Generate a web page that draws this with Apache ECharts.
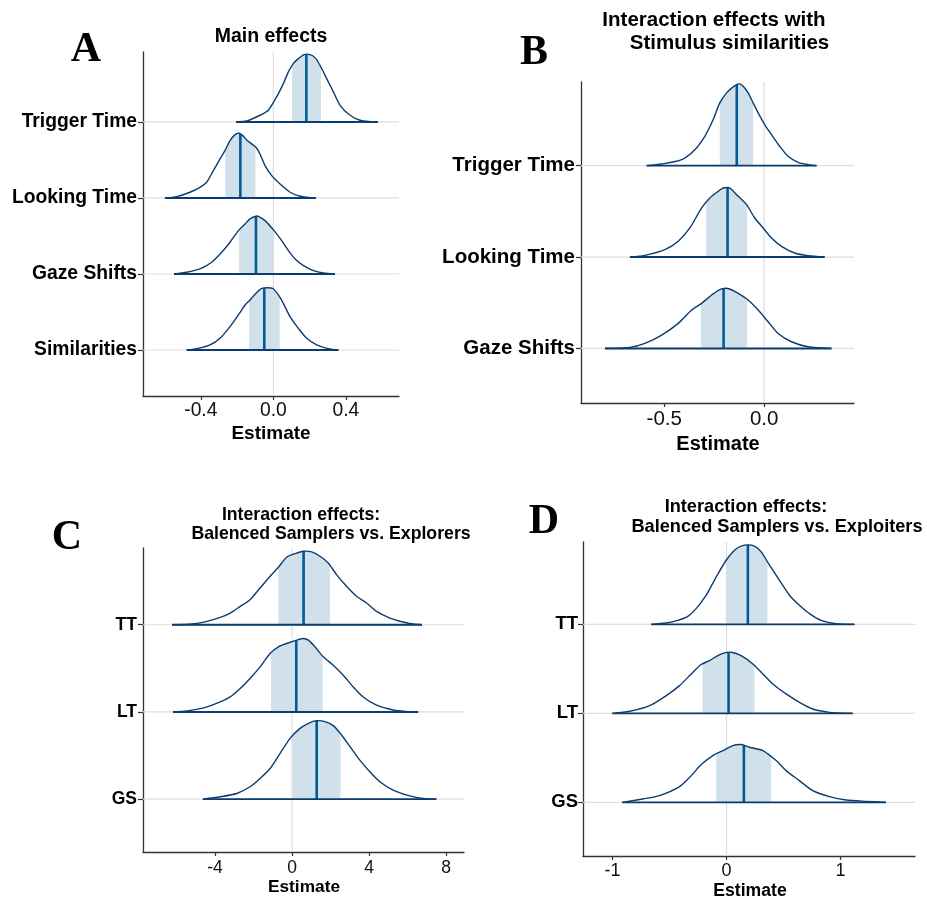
<!DOCTYPE html>
<html><head><meta charset="utf-8">
<script src="https://cdn.jsdelivr.net/npm/echarts@6/dist/echarts.min.js"></script>
<style>html,body{margin:0;padding:0;background:#fff}#c{width:927px;height:902px}</style>
</head><body><div id="c"></div>
<script>
// ---------- Panel A: Main effects (index 0 = bottom row) ----------
const A_labels = ['Similarities', 'Gaze Shifts', 'Looking Time', 'Trigger Time'];
const A_ticks = [-0.4, 0, 0.4];
const A_sim_x = [-0.478,-0.414,-0.349,-0.294,-0.239,-0.193,-0.156,-0.129,-0.096,-0.064,-0.004,0.028,0.055,0.092,0.138,0.184,0.239,0.294,0.359];
const A_sim_h = [0,0.022,0.066,0.154,0.307,0.461,0.592,0.658,0.746,0.811,0.811,0.724,0.614,0.439,0.285,0.154,0.066,0.022,0];
const A_gs_x = [-0.548,-0.478,-0.405,-0.340,-0.285,-0.239,-0.193,-0.156,-0.129,-0.096,-0.083,-0.046,0.004,0.046,0.083,0.120,0.166,0.221,0.276,0.340];
const A_gs_h = [0,0.022,0.066,0.154,0.285,0.417,0.570,0.658,0.724,0.759,0.759,0.702,0.570,0.439,0.307,0.197,0.110,0.044,0.013,0];
const A_lt_x = [-0.598,-0.533,-0.460,-0.405,-0.368,-0.331,-0.294,-0.267,-0.239,-0.211,-0.188,-0.169,-0.147,-0.120,-0.096,-0.074,-0.046,-0.009,0.037,0.092,0.147,0.202,0.234];
const A_lt_h = [0,0.018,0.075,0.140,0.206,0.360,0.513,0.623,0.754,0.833,0.851,0.820,0.763,0.711,0.667,0.579,0.425,0.294,0.184,0.075,0.022,0.004,0];
const A_tt_x = [-0.206,-0.147,-0.074,-0.028,0.018,0.055,0.083,0.110,0.138,0.169,0.202,0.230,0.257,0.294,0.331,0.368,0.423,0.478,0.533,0.576];
const A_tt_h = [0,0.013,0.088,0.154,0.329,0.504,0.658,0.768,0.833,0.886,0.886,0.846,0.746,0.570,0.395,0.219,0.088,0.022,0.004,0];
const A_lo  = [-0.134, -0.189, -0.265, 0.103];
const A_hi  = [0.035, 0.0, -0.099, 0.263];
const A_med = [-0.050, -0.096, -0.182, 0.182];

// ---------- Panel B: Interaction with stimulus similarities ----------
const B_labels = ['Gaze Shifts', 'Looking Time', 'Trigger Time'];
const B_ticks = [-0.5, 0];
const B_gs_x = [-0.797,-0.672,-0.597,-0.513,-0.430,-0.363,-0.313,-0.263,-0.227,-0.200,-0.172,-0.130,-0.080,-0.030,0.020,0.070,0.137,0.220,0.337];
const B_gs_h = [0,0.011,0.055,0.146,0.274,0.420,0.493,0.584,0.639,0.657,0.650,0.602,0.529,0.420,0.292,0.164,0.073,0.018,0];
const B_lt_x = [-0.672,-0.597,-0.497,-0.430,-0.372,-0.313,-0.272,-0.230,-0.205,-0.172,-0.138,-0.088,-0.047,-0.005,0.037,0.087,0.153,0.220,0.303];
const B_lt_h = [0,0.018,0.080,0.172,0.318,0.537,0.646,0.719,0.755,0.755,0.682,0.573,0.427,0.318,0.208,0.117,0.044,0.015,0];
const B_tt_x = [-0.588,-0.513,-0.413,-0.347,-0.297,-0.255,-0.222,-0.188,-0.155,-0.127,-0.105,-0.080,-0.055,-0.030,0.003,0.037,0.078,0.120,0.170,0.220,0.262];
const B_tt_h = [0,0.018,0.066,0.175,0.321,0.504,0.686,0.796,0.861,0.894,0.869,0.796,0.686,0.577,0.449,0.339,0.212,0.102,0.036,0.011,0];
const B_lo  = [-0.317, -0.290, -0.222];
const B_hi  = [-0.085, -0.085, -0.055];
const B_med = [-0.203, -0.183, -0.137];

// ---------- Panel C: Balenced Samplers vs. Explorers ----------
const C_labels = ['GS', 'LT', 'TT'];
const C_ticks = [-4, 0, 4, 8];
const C_gs_x = [-4.63,-3.73,-2.87,-2.18,-1.66,-1.14,-0.62,-0.10,0.41,0.85,1.28,1.71,2.14,2.57,3.01,3.52,4.04,4.56,5.25,6.11,6.80,7.49];
const C_gs_h = [0,0.027,0.065,0.142,0.238,0.352,0.525,0.697,0.812,0.870,0.900,0.889,0.843,0.736,0.602,0.448,0.314,0.199,0.103,0.038,0.008,0];
const C_lt_x = [-6.18,-5.46,-4.59,-3.73,-3.21,-2.69,-2.18,-1.66,-1.14,-0.71,-0.28,0.24,0.59,0.85,1.19,1.62,2.14,2.66,3.18,3.70,4.39,5.25,6.03,6.55];
const C_lt_h = [0,0.011,0.046,0.115,0.172,0.268,0.383,0.517,0.670,0.747,0.785,0.824,0.843,0.824,0.747,0.632,0.536,0.421,0.287,0.172,0.077,0.023,0.004,0];
const C_tt_x = [-6.23,-5.20,-4.42,-3.73,-3.21,-2.69,-2.18,-1.66,-1.14,-0.71,-0.28,0.16,0.59,1.02,1.45,1.88,2.31,2.83,3.35,3.87,4.39,5.08,5.77,6.29,6.75];
const C_tt_h = [0,0.008,0.038,0.084,0.134,0.211,0.287,0.421,0.556,0.659,0.774,0.816,0.843,0.835,0.785,0.709,0.575,0.441,0.326,0.249,0.153,0.077,0.031,0.008,0];
const C_lo  = [0.02, -1.09, -0.71];
const C_hi  = [2.52, 1.59, 1.97];
const C_med = [1.28, 0.22, 0.60];

// ---------- Panel D: Balenced Samplers vs. Exploiters ----------
const D_labels = ['GS', 'LT', 'TT'];
const D_ticks = [-1, 0, 1];
const D_gs_x = [-0.914,-0.733,-0.587,-0.412,-0.309,-0.222,-0.120,-0.018,0.055,0.128,0.201,0.318,0.435,0.522,0.639,0.756,0.902,1.048,1.223,1.398];
const D_gs_h = [0,0.038,0.075,0.176,0.300,0.424,0.525,0.589,0.638,0.649,0.619,0.582,0.469,0.356,0.244,0.131,0.064,0.026,0.011,0];
const D_lt_x = [-1.001,-0.849,-0.674,-0.528,-0.412,-0.309,-0.222,-0.149,-0.076,-0.018,0.041,0.128,0.231,0.318,0.406,0.522,0.639,0.756,0.902,1.019,1.106];
const D_lt_h = [0,0.023,0.086,0.199,0.311,0.443,0.548,0.593,0.649,0.679,0.687,0.649,0.555,0.443,0.330,0.218,0.124,0.049,0.011,0.002,0];
const D_tt_x = [-0.660,-0.528,-0.426,-0.339,-0.266,-0.178,-0.090,-0.003,0.070,0.128,0.187,0.245,0.304,0.377,0.464,0.552,0.639,0.727,0.829,0.960,1.121];
const D_tt_h = [0,0.015,0.045,0.090,0.176,0.327,0.533,0.720,0.833,0.878,0.893,0.878,0.814,0.664,0.495,0.327,0.214,0.120,0.045,0.008,0];
const D_lo  = [-0.090, -0.210, 0.003];
const D_hi  = [0.391, 0.245, 0.359];
const D_med = [0.152, 0.018, 0.187];

// ---------- layout / styling ----------
const FONT = '"Liberation Sans", Arial, sans-serif';
const SERIF = '"Liberation Serif", "Times New Roman", serif';
const OUTLINE = '#0b3c6e', MEDIAN = '#005b96', SHADE = '#d1e1ec', GRIDC = '#dedede', AXISC = '#333333';

const panels = [
  { grid:{left:143, top:52, width:256, height:344}, xMin:-0.719, xMax:0.693, yMin:0.395, yMax:4.92,
    labels:A_labels, ticks:A_ticks, dec:1,
    ridges:[[A_sim_x,A_sim_h],[A_gs_x,A_gs_h],[A_lt_x,A_lt_h],[A_tt_x,A_tt_h]],
    lo:A_lo, hi:A_hi, med:A_med, yFont:19.3, xFont:19.3, xMargin:5, yMargin:6 },
  { grid:{left:581, top:82, width:273, height:321}, xMin:-0.917, xMax:0.45, yMin:0.403, yMax:3.915,
    labels:B_labels, ticks:B_ticks, dec:1,
    ridges:[[B_gs_x,B_gs_h],[B_lt_x,B_lt_h],[B_tt_x,B_tt_h]],
    lo:B_lo, hi:B_hi, med:B_med, yFont:20.5, xFont:20.5, xMargin:6, yMargin:6 },
  { grid:{left:143, top:548, width:321, height:304}, xMin:-7.74, xMax:8.93, yMin:0.394, yMax:3.88,
    labels:C_labels, ticks:C_ticks, dec:0,
    ridges:[[C_gs_x,C_gs_h],[C_lt_x,C_lt_h],[C_tt_x,C_tt_h]],
    lo:C_lo, hi:C_hi, med:C_med, yFont:17.5, xFont:17.5, xMargin:7, yMargin:6 },
  { grid:{left:583, top:542, width:332, height:314}, xMin:-1.258, xMax:1.652, yMin:0.397, yMax:3.925,
    labels:D_labels, ticks:D_ticks, dec:0,
    ridges:[[D_gs_x,D_gs_h],[D_lt_x,D_lt_h],[D_tt_x,D_tt_h]],
    lo:D_lo, hi:D_hi, med:D_med, yFont:18.5, xFont:18, xMargin:6, yMargin:5 }
];

function hAt(xs, hs, x) {
  if (x <= xs[0]) return hs[0];
  for (let j = 1; j < xs.length; j++) {
    if (x <= xs[j]) {
      const t = (x - xs[j-1]) / (xs[j] - xs[j-1]);
      return hs[j-1] + t * (hs[j] - hs[j-1]);
    }
  }
  return hs[hs.length - 1];
}

const grids = [], xAxes = [], yAxes = [], series = [];
panels.forEach((P, i) => {
  grids.push(Object.assign({containLabel:false}, P.grid));
  xAxes.push({
    type:'value', gridIndex:i, min:P.xMin, max:P.xMax,
    axisLine:{show:true, onZero:false, lineStyle:{color:AXISC, width:1.3}},
    axisTick:{show:true, length:4, customValues:P.ticks, lineStyle:{color:AXISC, width:1.2}},
    axisLabel:{show:true, customValues:P.ticks, fontFamily:FONT, fontSize:P.xFont, color:'#111', margin:P.xMargin,
      formatter:v => Number(v).toFixed(P.dec)},
    splitLine:{show:false}
  });
  const cats = P.labels.map((_, k) => k + 1);
  yAxes.push({
    type:'value', gridIndex:i, min:P.yMin, max:P.yMax,
    axisLine:{show:true, onZero:false, lineStyle:{color:AXISC, width:1.3}},
    axisTick:{show:true, length:5, customValues:cats, lineStyle:{color:AXISC, width:1.2}},
    axisLabel:{show:true, customValues:cats, fontFamily:FONT, fontWeight:'bold', fontSize:P.yFont, color:'#000', margin:P.yMargin,
      padding:[4,0,0,0], formatter:v => P.labels[Math.round(v) - 1] || ''},
    splitLine:{show:false}
  });
  const data = P.labels.map((_, k) => [P.med[k], k + 1]);
  // gridlines (horizontal at each row baseline, vertical at zero)
  series.push({
    type:'custom', xAxisIndex:i, yAxisIndex:i, z:1, silent:true, data:data,
    encode:{x:0, y:1},
    renderItem:(params, api) => {
      const k = params.dataIndex, cs = params.coordSys;
      const yb = api.coord([P.xMin, k + 1])[1];
      const children = [{type:'line', shape:{x1:cs.x, y1:yb, x2:cs.x + cs.width, y2:yb},
        style:{stroke:GRIDC, lineWidth:1.2}}];
      if (k === 0) {
        const x0 = api.coord([0, P.yMin])[0];
        children.push({type:'line', shape:{x1:x0, y1:cs.y, x2:x0, y2:cs.y + cs.height},
          style:{stroke:GRIDC, lineWidth:1.2}});
      }
      return {type:'group', children};
    }
  });
  // ridges
  series.push({
    type:'custom', xAxisIndex:i, yAxisIndex:i, z:2, silent:true, data:data,
    encode:{x:0, y:1},
    renderItem:(params, api) => {
      const k = params.dataIndex, base = k + 1;
      const xs = P.ridges[k][0], hs = P.ridges[k][1];
      const lo = P.lo[k], hi = P.hi[k], med = P.med[k];
      const c = (x, h) => api.coord([x, base + h]);
      const sp = [c(lo, 0), c(lo, hAt(xs, hs, lo))];
      xs.forEach((x, j) => { if (x > lo && x < hi) sp.push(c(x, hs[j])); });
      sp.push(c(hi, hAt(xs, hs, hi)), c(hi, 0));
      const curve = xs.map((x, j) => c(x, hs[j]));
      const m0 = c(med, 0), m1 = c(med, hAt(xs, hs, med));
      const b0 = c(xs[0], 0), b1 = c(xs[xs.length - 1], 0);
      return {type:'group', children:[
        {type:'polygon', shape:{points:sp}, style:{fill:SHADE}},
        {type:'line', shape:{x1:m0[0], y1:m0[1], x2:m1[0], y2:m1[1]}, style:{stroke:MEDIAN, lineWidth:2.6}},
        {type:'polyline', shape:{points:curve, smooth:0.25}, style:{stroke:OUTLINE, lineWidth:1.4, fill:null}},
        {type:'line', shape:{x1:b0[0], y1:b0[1], x2:b1[0], y2:b1[1]}, style:{stroke:OUTLINE, lineWidth:1.9}}
      ]};
    }
  });
});

function txt(s, x, y, font) {
  return {type:'text', x:x, y:y, silent:true,
    style:{text:s, font:font, fill:'#000', align:'center', verticalAlign:'middle',
           textAlign:'center', textVerticalAlign:'middle'}};
}
const graphic = [
  txt('A', 86, 50, 'bold 42px ' + SERIF),
  txt('B', 534, 53, 'bold 42px ' + SERIF),
  txt('C', 67, 538, 'bold 42px ' + SERIF),
  txt('D', 544, 522, 'bold 42px ' + SERIF),
  txt('Main effects', 271, 37, 'bold 19.5px ' + FONT),
  txt('Interaction effects with', 714, 20.5, 'bold 20.5px ' + FONT),
  txt('Stimulus similarities', 729.5, 43, 'bold 20.5px ' + FONT),
  txt('Interaction effects:', 301, 515, 'bold 17.7px ' + FONT),
  txt('Balenced Samplers vs. Explorers', 331, 534, 'bold 17.7px ' + FONT),
  txt('Interaction effects:', 746, 506.5, 'bold 18.2px ' + FONT),
  txt('Balenced Samplers vs. Exploiters', 777, 526.5, 'bold 18.2px ' + FONT),
  txt('Estimate', 271, 434, 'bold 19px ' + FONT),
  txt('Estimate', 718, 444, 'bold 20px ' + FONT),
  txt('Estimate', 304, 887, 'bold 17.3px ' + FONT),
  txt('Estimate', 750, 891, 'bold 17.6px ' + FONT)
];

const chart = echarts.init(document.getElementById('c'), null, {renderer:'canvas'});
chart.setOption({
  animation:false, backgroundColor:'#fff',
  grid:grids, xAxis:xAxes, yAxis:yAxes, series:series, graphic:graphic
});
</script></body></html>
